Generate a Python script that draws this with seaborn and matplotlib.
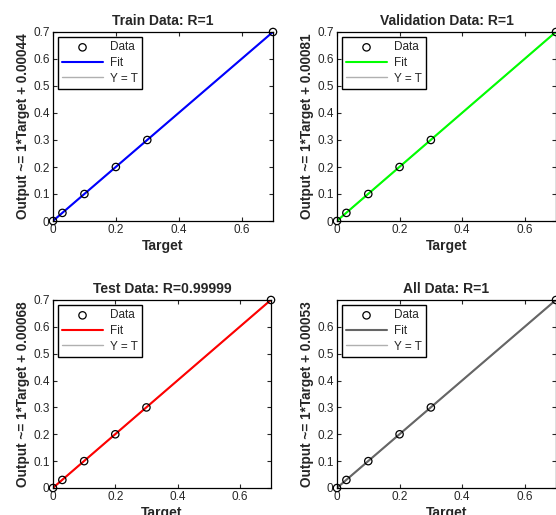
import matplotlib
matplotlib.use("Agg")
import matplotlib.pyplot as plt
import seaborn as sns
import numpy as np
import pandas as pd

sns.set_style("ticks")
plt.rcParams['font.family'] = ['Liberation Sans', 'DejaVu Sans']

# Data
targets = [0.0, 0.03, 0.1, 0.2, 0.3, 0.7]
outputs = [0.0, 0.03, 0.1, 0.2, 0.3, 0.7]
titles = ["Train Data: R=1", "Validation Data: R=1", "Test Data: R=0.99999", "All Data: R=1"]
offsets = ["0.00044", "0.00081", "0.00068", "0.00053"]
fit_colors = ["#0000ff", "#00ff00", "#ff0000", "#666666"]
xticks = [0, 0.2, 0.4, 0.6]
xtick_labels = ["0", "0.2", "0.4", "0.6"]
yticks = [0, 0.1, 0.2, 0.3, 0.4, 0.5, 0.6, 0.7]
ytick_labels = ["0", "0.1", "0.2", "0.3", "0.4", "0.5", "0.6", "0.7"]

W, H = 556, 515
fig = plt.figure(figsize=(W / 100, H / 100), dpi=100)

rects = [
    (53, 32, 273, 221),
    (337, 32, 556, 221),
    (53, 300, 271, 488),
    (337, 300, 556, 488),
]

for i, (x0, y0, x1, y1) in enumerate(rects):
    ax = fig.add_axes([x0 / W, 1 - y1 / H, (x1 - x0) / W, (y1 - y0) / H])
    off = float(offsets[i])
    df = pd.DataFrame({"Target": targets, "Output": outputs,
                       "Fit": [t + off for t in targets]})
    # Y = T line
    sns.lineplot(data=df, x="Target", y="Target", ax=ax, color="#b0b0b0",
                 linewidth=1.0, label="Y = T", zorder=1)
    # Fit line
    sns.lineplot(data=df, x="Target", y="Fit", ax=ax, color=fit_colors[i],
                 linewidth=1.5, label="Fit", zorder=2)
    # Data points
    sns.scatterplot(data=df, x="Target", y="Output", ax=ax, marker="o",
                    facecolor="none", edgecolor="black", linewidth=0.9, s=28,
                    label="Data", zorder=3, clip_on=False)
    ax.set_xlim(0, 0.7)
    ax.set_ylim(0, 0.7)
    ax.set_xticks(xticks)
    ax.set_xticklabels(xtick_labels)
    if i == 3:
        ax.set_yticks(yticks[:-1])
        ax.set_yticklabels(ytick_labels[:-1])
    else:
        ax.set_yticks(yticks)
        ax.set_yticklabels(ytick_labels)
    ax.tick_params(direction="in", length=3, labelsize=8.5, top=True, right=True,
                   width=0.8, pad=2.5)
    for s in ax.spines.values():
        s.set_visible(True)
        s.set_linewidth(0.9)
        s.set_color("black")
    ax.set_title(titles[i], fontsize=10, fontweight="bold", pad=5)
    ax.set_xlabel("Target", fontsize=10, fontweight="bold", labelpad=1.5)
    ax.set_ylabel("Output ~= 1*Target + " + offsets[i], fontsize=9.8,
                  fontweight="bold", labelpad=2)
    handles, labels = ax.get_legend_handles_labels()
    order = [labels.index("Data"), labels.index("Fit"), labels.index("Y = T")]
    leg = ax.legend([handles[k] for k in order], [labels[k] for k in order],
                    loc="upper left", fontsize=8.5, frameon=True, fancybox=False,
                    framealpha=1, edgecolor="black", borderpad=0.35,
                    labelspacing=0.3, handlelength=3.4, handletextpad=0.6,
                    borderaxespad=0.45)
    leg.get_frame().set_linewidth(1.0)

fig.savefig("out.png", dpi=100)
